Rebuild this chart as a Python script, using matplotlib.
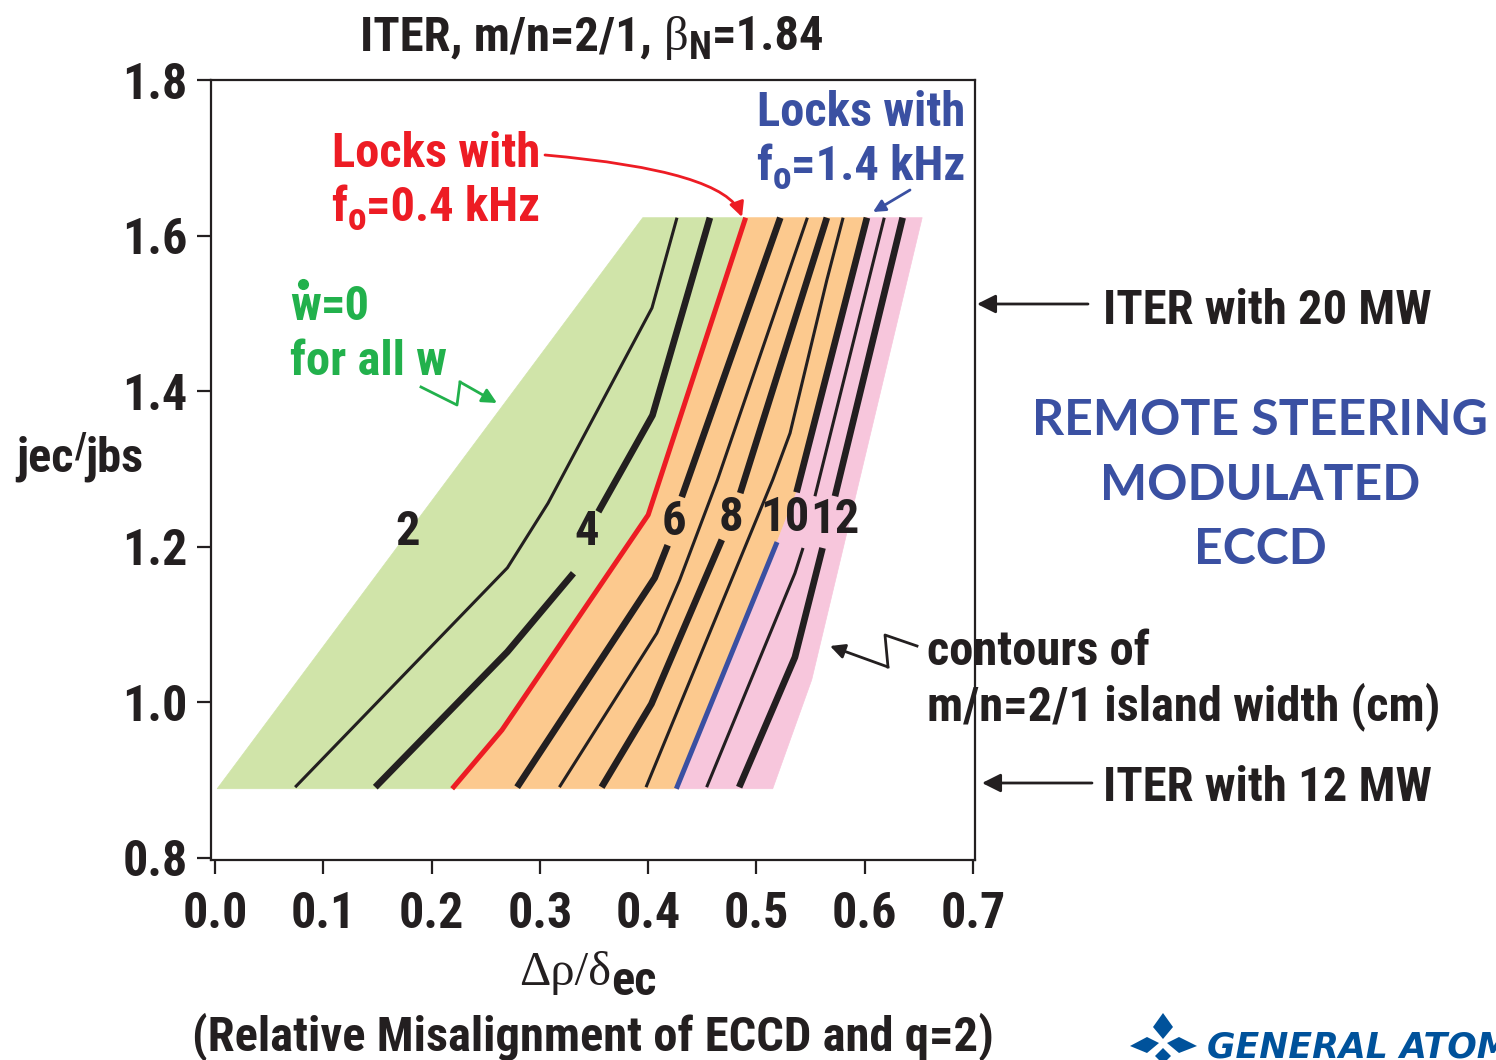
import os
import matplotlib
matplotlib.use('Agg')
import matplotlib.pyplot as plt
from matplotlib.patches import Polygon
from matplotlib import font_manager as fm

W, H = 1496, 1060
INK = '#231f20'
RED = '#ed1c24'
BLUE = '#3a50a2'
GTXT = '#22b14c'
C_GREEN = '#d0e4a9'
C_ORANGE = '#fcc98e'
C_PINK = '#f7c6dc'

# pick a narrow bold sans (Helvetica Condensed look)
prefs = ['liberationsansnarrow-bold.', 'robotocondensed-bold.', 'notosans-condensedbold.',
         'opensans-condensedbold.', 'dejavusanscondensed-bold.', 'notosans-semicondensedbold.']
files = {}
for f in fm.fontManager.ttflist:
    files[os.path.basename(f.fname).lower()] = f.fname
for p in fm.findSystemFonts():
    files.setdefault(os.path.basename(p).lower(), p)
narrow_file = None
for pre in prefs:
    hit = [files[k] for k in sorted(files) if k.startswith(pre)]
    if hit:
        narrow_file = hit[0]
        break

FS = 35


def fpB(size=FS):
    if narrow_file:
        return fm.FontProperties(fname=narrow_file, size=size)
    return fm.FontProperties(family='DejaVu Sans', weight='bold', size=size * 0.8)


def fpSerif(size=FS):
    return fm.FontProperties(family=['Liberation Serif', 'DejaVu Serif'], size=size)


# ---- data (x = delta rho / delta_ec, y = j_ec / j_bs) ----
x_ticks = [0.0, 0.1, 0.2, 0.3, 0.4, 0.5, 0.6, 0.7]
x_tick_labels = ['0.0', '0.1', '0.2', '0.3', '0.4', '0.5', '0.6', '0.7']
y_ticks = [0.8, 1.0, 1.2, 1.4, 1.6, 1.8]
y_tick_labels = ['0.8', '1.0', '1.2', '1.4', '1.6', '1.8']

y_bot, y_top = 0.889, 1.623
left_edge_x = [0.002, 0.395]
# locks with f0=0.4 kHz (red)
red_x = [0.219, 0.265, 0.400, 0.490]
red_y = [0.889, 0.9645, 1.241, 1.623]
# locks with f0=1.4 kHz (blue), continues as the 10 cm contour
blue_x = [0.426, 0.519]
blue_y = [0.889, 1.206]
w10_x = [0.537, 0.602]
w10_y = [1.270, 1.623]
pink_x = [0.515, 0.551, 0.653]
pink_y = [0.889, 1.029, 1.623]

# thin contours
w3_x = [0.074, 0.270, 0.3075, 0.4035, 0.4266]
w3_y = [0.891, 1.173, 1.256, 1.507, 1.623]
w7_x = [0.318, 0.408, 0.429, 0.464, 0.547]
w7_y = [0.891, 1.089, 1.157, 1.286, 1.623]
w9_x = [0.398, 0.515, 0.531, 0.565, 0.580]
w9_y = [0.891, 1.286, 1.346, 1.543, 1.623]
w11a_x, w11a_y = [0.454, 0.5355, 0.543], [0.891, 1.166, 1.1985]
w11b_x, w11b_y = [0.554, 0.618], [1.265, 1.623]
# thick contours (broken at the labels)
w4a_x, w4a_y = [0.148, 0.270, 0.331], [0.891, 1.065, 1.166]
w4b_x, w4b_y = [0.354, 0.404, 0.457], [1.245, 1.369, 1.623]
w6a_x, w6a_y = [0.279, 0.406, 0.418], [0.891, 1.160, 1.202]
w6b_x, w6b_y = [0.431, 0.522], [1.264, 1.623]
w8a_x, w8a_y = [0.357, 0.403, 0.468], [0.891, 0.998, 1.209]
w8b_x, w8b_y = [0.485, 0.565], [1.269, 1.623]
w12a_x, w12a_y = [0.484, 0.5355, 0.561], [0.891, 1.058, 1.1985]
w12b_x, w12b_y = [0.5725, 0.635], [1.265, 1.623]

lab_text = ['2', '4', '6', '8', '10', '12']
lab_x = [0.178, 0.3435, 0.424, 0.4765, 0.526, 0.5725]
lab_y = [1.219, 1.219, 1.232, 1.237, 1.237, 1.234]

fig = plt.figure(figsize=(W / 100, H / 100), dpi=100)
ax = fig.add_axes([211 / W, 1 - 860 / H, 764 / W, 780 / H])
ax.set_xlim(-0.0037, 0.7018)
ax.set_ylim(0.7974, 1.80)

l8_x = blue_x + w10_x
l8_y = blue_y + w10_y
green = list(zip(left_edge_x, [y_bot, y_top])) + list(zip(red_x[::-1], red_y[::-1]))
orange = list(zip(red_x, red_y)) + list(zip(l8_x[::-1], l8_y[::-1]))
pink = list(zip(l8_x, l8_y)) + list(zip(pink_x[::-1], pink_y[::-1]))
for verts, col in [(green, C_GREEN), (orange, C_ORANGE), (pink, C_PINK)]:
    ax.add_patch(Polygon(verts, closed=True, facecolor=col, edgecolor=col, lw=0.5, zorder=1))

for xs, ys in [(w3_x, w3_y), (w7_x, w7_y), (w9_x, w9_y), (w11a_x, w11a_y), (w11b_x, w11b_y)]:
    ax.plot(xs, ys, color=INK, lw=2.2, solid_capstyle='butt', zorder=3)
for xs, ys in [(w4a_x, w4a_y), (w4b_x, w4b_y), (w6a_x, w6a_y), (w6b_x, w6b_y),
               (w8a_x, w8a_y), (w8b_x, w8b_y), (w10_x, w10_y), (w12a_x, w12a_y), (w12b_x, w12b_y)]:
    ax.plot(xs, ys, color=INK, lw=4.8, solid_capstyle='butt', zorder=3)
ax.plot(red_x, red_y, color=RED, lw=3.6, solid_capstyle='butt', zorder=4)
ax.plot(blue_x, blue_y, color=BLUE, lw=3.6, solid_capstyle='butt', zorder=4)

for t, x, y in zip(lab_text, lab_x, lab_y):
    ax.text(x, y, t, fontproperties=fpB(35), color=INK, ha='center', va='center', zorder=5)

ax.set_xticks(x_ticks)
ax.set_xticklabels(x_tick_labels)
ax.set_yticks(y_ticks)
ax.set_yticklabels(y_tick_labels)
ax.tick_params(axis='both', direction='out', length=10, width=1.6, colors=INK)
ax.tick_params(axis='x', pad=12)
ax.tick_params(axis='y', pad=7)
for lab in ax.get_xticklabels() + ax.get_yticklabels():
    lab.set_fontproperties(fpB(36))
for s in ax.spines.values():
    s.set_linewidth(1.6)
    s.set_color(INK)

# ---- overlay in pixel coordinates for all the annotation text ----
ov = fig.add_axes([0, 0, 1, 1])
ov.set_xlim(0, W)
ov.set_ylim(H, 0)
ov.axis('off')
renderer = fig.canvas.get_renderer()


def rich(x, y, parts, ha='left', color=INK):
    # parts: (string, fontprops, dy pixels downward, extra gap after)
    objs, widths = [], []
    for s, fp, dy, gap in parts:
        t = ov.text(0, 0, s, fontproperties=fp, color=color, ha='left', va='baseline')
        widths.append(t.get_window_extent(renderer).width + gap)
        objs.append((t, dy))
    x0 = x - sum(widths) / 2 if ha == 'center' else x
    for (t, dy), w in zip(objs, widths):
        t.set_position((x0, y + dy))
        x0 += w


def plain(x, y, s, ha='left', color=INK, fp=None):
    ov.text(x, y, s, fontproperties=fp or fpB(), color=color, ha=ha, va='baseline')


rich(592, 50, [('ITER, m/n=2/1,', fpB(), 0, 12), ('β', fpSerif(FS), 0, 0),
               ('N', fpB(27), 9, 0), ('=1.84', fpB(), 0, 0)], ha='center')
rich(80, 472, [('jec', fpB(), 0, 0), ('/', fpB(26), -14, 0), ('jbs', fpB(), 0, 0)], ha='center')
rich(588, 985, [('Δρ/δ', fpSerif(FS), 0, 0), ('ec', fpB(), 10, 0)], ha='center')
plain(593, 1050, '(Relative Misalignment of ECCD and q=2)', ha='center')

plain(436, 167, 'Locks with', ha='center', color=RED)
rich(436, 221, [('f', fpB(), 0, 0), ('o', fpB(27), 9, 0), ('=0.4 kHz', fpB(), 0, 0)], ha='center', color=RED)
ov.annotate('', xy=(742, 217), xytext=(545, 155),
            arrowprops=dict(arrowstyle='-|>', color=RED, lw=2, mutation_scale=22,
                            shrinkA=0, shrinkB=0, connectionstyle='angle3,angleA=-5,angleB=110'))

plain(861, 126, 'Locks with', ha='center', color=BLUE)
rich(861, 180, [('f', fpB(), 0, 0), ('o', fpB(27), 9, 0), ('=1.4 kHz', fpB(), 0, 0)], ha='center', color=BLUE)
ov.annotate('', xy=(873, 212), xytext=(910, 190),
            arrowprops=dict(arrowstyle='-|>', color=BLUE, lw=2, mutation_scale=18, shrinkA=0, shrinkB=0))

rich(290, 320, [('w', fpB(), 0, 0), ('=0', fpB(), 0, 0)], color=GTXT)
ov.plot([303], [284], marker='o', ms=7, color=GTXT)
plain(290, 375, 'for all w', color=GTXT)
ov.plot([421, 457, 460], [387, 405, 382], color=GTXT, lw=2)
ov.annotate('', xy=(497, 403), xytext=(460, 382),
            arrowprops=dict(arrowstyle='-|>', color=GTXT, lw=2, mutation_scale=22, shrinkA=0, shrinkB=0))

plain(1103, 324, 'ITER with 20 MW')
ov.annotate('', xy=(977, 304), xytext=(1088, 304),
            arrowprops=dict(arrowstyle='-|>', color=INK, lw=2, mutation_scale=28, shrinkA=0, shrinkB=0))
plain(1103, 801, 'ITER with 12 MW')
ov.annotate('', xy=(982, 783), xytext=(1092, 783),
            arrowprops=dict(arrowstyle='-|>', color=INK, lw=2, mutation_scale=28, shrinkA=0, shrinkB=0))

plain(927, 665, 'contours of')
plain(927, 720, 'm/n=2/1 island width (cm)')
ov.plot([917, 885, 888], [646, 635, 667], color=INK, lw=2)
ov.annotate('', xy=(830, 646), xytext=(888, 667),
            arrowprops=dict(arrowstyle='-|>', color=INK, lw=2, mutation_scale=22, shrinkA=0, shrinkB=0))

fpRS = fm.FontProperties(family=['Lato', 'DejaVu Sans'], weight='bold', size=36)
for txt, yb in [('REMOTE STEERING', 435), ('MODULATED', 500), ('ECCD', 564)]:
    plain(1260, yb, txt, ha='center', color=BLUE, fp=fpRS)

# General Atomics logo
GA = '#00529b'
for kite in [[(1163, 1013), (1173, 1027), (1163, 1039), (1153, 1027)],
             [(1130, 1046), (1147, 1037), (1159, 1043), (1147, 1053)],
             [(1197, 1046), (1179, 1037), (1167, 1043), (1179, 1053)],
             [(1163, 1064), (1171, 1056), (1163, 1048), (1155, 1056)]]:
    ov.add_patch(Polygon(kite, closed=True, facecolor=GA, edgecolor='none'))
ov.text(1207, 1057, 'GENERAL ATOMICS', fontsize=25, fontfamily=['DejaVu Sans'], fontweight='heavy',
        fontstyle='italic', ha='left', va='baseline', color=GA)

fig.savefig('out.png', dpi=100)
